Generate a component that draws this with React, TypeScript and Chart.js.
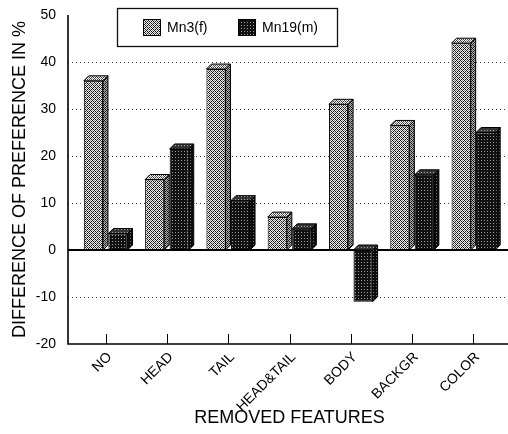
import React, { useEffect, useRef } from "react";
import { Chart, registerables } from "chart.js";
Chart.register(...registerables);

const categories = ["NO", "HEAD", "TAIL", "HEAD&TAIL", "BODY", "BACKGR", "COLOR"];
const mn3f = [36, 15, 38.5, 7, 31, 26.5, 44];
const mn19m = [3.5, 21.5, 10.5, 4.5, -11, 16, 25];
const seriesNames = ["Mn3(f)", "Mn19(m)"];
const gridValues = [-10, 10, 20, 30, 40];
const yMin = -20;
const yMax = 50;
const yStep = 10;
const xTitle = "REMOVED FEATURES";
const yTitle = "DIFFERENCE OF PREFERENCE IN %";

const FONT = "Arial, 'Liberation Sans', Helvetica, sans-serif";
const DEPTH = 5;

function makeHatch(): CanvasPattern | string {
  const c = document.createElement("canvas");
  c.width = 4;
  c.height = 4;
  const g = c.getContext("2d")!;
  g.fillStyle = "#eeeeee";
  g.fillRect(0, 0, 4, 4);
  g.fillStyle = "#1a1a1a";
  for (let x = 0; x < 4; x++)
    for (let y = 0; y < 4; y++)
      if ((x + y) % 4 === 0 || (x - y + 4) % 4 === 0) g.fillRect(x, y, 1, 1);
  g.fillStyle = "#888";
  g.fillRect(2, 0, 1, 1);
  g.fillRect(0, 2, 1, 1);
  return g.createPattern(c, "repeat") || "#999";
}

function makeDark(): CanvasPattern | string {
  const c = document.createElement("canvas");
  c.width = 3;
  c.height = 3;
  const g = c.getContext("2d")!;
  g.fillStyle = "#111";
  g.fillRect(0, 0, 3, 3);
  g.fillStyle = "#9a9a9a";
  g.fillRect(1, 1, 1, 1);
  return g.createPattern(c, "repeat") || "#222";
}

const bar3d = {
  id: "bar3d",
  afterDatasetsDraw(chart: any) {
    const ctx = chart.ctx;
    chart.data.datasets.forEach((ds: any, di: number) => {
      const meta = chart.getDatasetMeta(di);
      meta.data.forEach((el: any) => {
        const { x, y, base, width } = el.getProps(["x", "y", "base", "width"], true);
        const l = x - width / 2;
        const r = x + width / 2;
        const t = Math.min(y, base);
        const b = Math.max(y, base);
        ctx.save();
        ctx.lineWidth = 1;
        ctx.strokeStyle = "#000";
        ctx.beginPath();
        ctx.moveTo(r, t);
        ctx.lineTo(r + DEPTH, t - DEPTH);
        ctx.lineTo(r + DEPTH, b - DEPTH);
        ctx.lineTo(r, b);
        ctx.closePath();
        ctx.fillStyle = ds.backgroundColor;
        ctx.fill();
        ctx.fillStyle = "rgba(0,0,0,0.25)";
        ctx.fill();
        ctx.stroke();
        ctx.beginPath();
        ctx.moveTo(l, t);
        ctx.lineTo(l + DEPTH, t - DEPTH);
        ctx.lineTo(r + DEPTH, t - DEPTH);
        ctx.lineTo(r, t);
        ctx.closePath();
        ctx.fillStyle = ds.backgroundColor;
        ctx.fill();
        ctx.fillStyle = "rgba(255,255,255,0.15)";
        ctx.fill();
        ctx.stroke();
        ctx.restore();
      });
    });
  },
};

const axes = {
  id: "axesCustom",
  beforeDatasetsDraw(chart: any) {
    const { ctx, chartArea, scales } = chart;
    const ys = scales.y;
    const x0 = chartArea.left - 7;
    const x1 = chartArea.right + 4;
    ctx.save();
    ctx.strokeStyle = "#333";
    ctx.lineWidth = 1;
    ctx.setLineDash([1, 3]);
    gridValues.forEach((v) => {
      const py = Math.round(ys.getPixelForValue(v)) + 0.5;
      ctx.beginPath();
      ctx.moveTo(x0, py);
      ctx.lineTo(x1, py);
      ctx.stroke();
    });
    ctx.restore();
  },
  afterDatasetsDraw(chart: any) {
    const { ctx, chartArea, scales } = chart;
    const ys = scales.y;
    const xs = scales.x;
    const x0 = chartArea.left - 7;
    const x1 = chartArea.right + 4;
    const yTop = ys.getPixelForValue(yMax);
    const yBot = ys.getPixelForValue(yMin);
    const yZero = ys.getPixelForValue(0);
    ctx.save();
    ctx.strokeStyle = "#000";
    ctx.lineWidth = 1.6;
    ctx.beginPath();
    ctx.moveTo(x0, yTop);
    ctx.lineTo(x0, yBot);
    ctx.lineTo(x1, yBot);
    ctx.stroke();
    ctx.lineWidth = 2;
    ctx.beginPath();
    ctx.moveTo(x0, yZero);
    ctx.lineTo(x1, yZero);
    ctx.stroke();
    ctx.lineWidth = 1;
    categories.forEach((_, i) => {
      const px = Math.round(xs.getPixelForValue(i)) + 0.5;
      ctx.beginPath();
      ctx.moveTo(px, yBot);
      ctx.lineTo(px, yBot - 10);
      ctx.stroke();
    });
    ctx.restore();
  },
};

const legendBox = {
  id: "legendBox",
  afterDraw(chart: any) {
    const ctx = chart.ctx;
    const ds = chart.data.datasets;
    ctx.save();
    ctx.fillStyle = "#fff";
    ctx.fillRect(117, 8, 220, 38);
    ctx.strokeStyle = "#111";
    ctx.lineWidth = 1.3;
    ctx.strokeRect(117.5, 8.5, 220, 38);
    const items = [
      { sx: 143, tx: 167 },
      { sx: 238, tx: 262 },
    ];
    items.forEach((it, i) => {
      ctx.fillStyle = ds[i].backgroundColor;
      ctx.fillRect(it.sx, 19, 17, 16);
      ctx.lineWidth = 1;
      ctx.strokeStyle = "#000";
      ctx.strokeRect(it.sx + 0.5, 19.5, 17, 16);
      ctx.fillStyle = "#000";
      ctx.font = `14px ${FONT}`;
      ctx.textAlign = "left";
      ctx.textBaseline = "middle";
      ctx.fillText(seriesNames[i], it.tx, 28);
    });
    ctx.restore();
  },
};

export default function App() {
  const ref = useRef<HTMLCanvasElement | null>(null);
  useEffect(() => {
    if (!ref.current) return;
    const hatch = makeHatch();
    const dark = makeDark();
    const chart = new Chart(ref.current, {
      type: "bar",
      data: {
        labels: categories,
        datasets: [
          {
            label: seriesNames[0],
            data: mn3f,
            backgroundColor: hatch as any,
            borderColor: "#000",
            borderWidth: 1,
            borderSkipped: false,
            categoryPercentage: 0.8,
            barPercentage: 0.78,
          },
          {
            label: seriesNames[1],
            data: mn19m,
            backgroundColor: dark as any,
            borderColor: "#000",
            borderWidth: 1,
            borderSkipped: false,
            categoryPercentage: 0.8,
            barPercentage: 0.78,
          },
        ],
      },
      options: {
        animation: false,
        responsive: false,
        maintainAspectRatio: false,
        layout: { padding: { top: 15, right: 4, bottom: 0, left: 0 } },
        plugins: {
          legend: { display: false },
          tooltip: { enabled: false },
        },
        scales: {
          x: {
            grid: { display: false, drawTicks: false },
            border: { display: false },
            ticks: {
              minRotation: 45,
              maxRotation: 45,
              padding: 5,
              labelOffset: 4,
              color: "#000",
              font: { family: FONT, size: 14 },
            },
            title: {
              display: true,
              text: xTitle,
              color: "#000",
              font: { family: FONT, size: 18 },
              padding: { top: 0, bottom: 5 },
            },
            afterFit: (s: any) => {
              s.height = 90;
              s.paddingLeft = 0;
              s.paddingRight = 0;
            },
          },
          y: {
            min: yMin,
            max: yMax,
            grid: { display: false, drawTicks: false },
            border: { display: false },
            ticks: {
              stepSize: yStep,
              padding: 19,
              color: "#000",
              font: { family: FONT, size: 14 },
            },
            title: {
              display: true,
              text: yTitle,
              color: "#000",
              font: { family: FONT, size: 18 },
              padding: { top: 9, bottom: 0 },
            },
            afterFit: (s: any) => {
              s.width = 75;
              s.paddingTop = 0;
              s.paddingBottom = 0;
            },
          },
        },
      },
      plugins: [axes, bar3d, legendBox],
    });
    return () => chart.destroy();
  }, []);
  return (
    <div style={{ position: "absolute", left: 0, top: 0, width: 508, height: 434, background: "#fff" }}>
      <canvas ref={ref} width={508} height={434} style={{ display: "block" }} />
    </div>
  );
}
